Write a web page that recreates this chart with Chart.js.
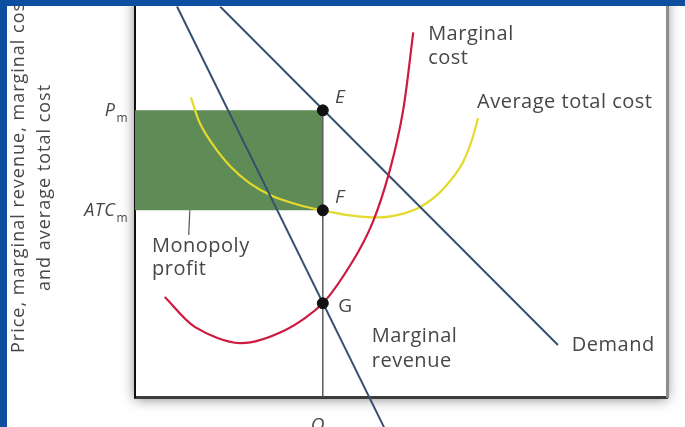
<!DOCTYPE html>
<html>
<head>
<meta charset="utf-8">
<script src="https://cdn.jsdelivr.net/npm/chart.js@4/dist/chart.umd.min.js"></script>
<style>
  html, body { margin: 0; padding: 0; }
  body { width: 685px; height: 427px; background: #0d4ea0; position: relative; overflow: hidden; }
  #wrap { position: absolute; left: 7px; top: 0; width: 678px; height: 427px; background: #fff; }
  #topbar { position: absolute; left: 0; top: 0; width: 685px; height: 6px; background: #0d4ea0; z-index: 2; }
</style>
</head>
<body>
<div id="wrap"><canvas id="monopoly" width="678" height="427"></canvas></div>
<div id="topbar"></div>
<script>
// quantity on x (0-100), price/cost on y (0-100)
const qM = 35.3;
const pM = 73.4;
const atcM = 47.8;
const mcAtQ = 24.0;

const demandX = [16.0, 79.5];
const demandY = [100, 13.3];
const mrX = [7.9, 46.8];
const mrY = [100, -7.7];
const mcX = [5.6, 11.3, 19.7, 28.2, 35.3, 40.8, 44.7, 47.9, 50.4, 52.3];
const mcY = [25.6, 17.9, 13.8, 17.1, 24.0, 34.5, 44.8, 58.1, 73.4, 93.4];
const atcX = [10.5, 12.2, 14.7, 17.9, 21.6, 25.9, 31.0, 35.3, 40.4, 46.1, 50.8, 53.8, 57.3, 61.1, 63.0, 64.5];
const atcY = [76.7, 70.1, 64.5, 59.1, 54.7, 51.4, 49.1, 47.8, 46.5, 46.0, 47.1, 48.8, 52.4, 58.8, 64.5, 71.4];

const pointY = [pM, atcM, mcAtQ];

const yTitle = ['Price, marginal revenue, marginal cost', 'and average total cost'];

// text labels anchored in data units
const curveLabels = [
  { text: 'Marginal', x: 55.1, y: 91.3 },
  { text: 'cost', x: 55.1, y: 85.4 },
  { text: 'Average total cost', x: 64.3, y: 73.9 },
  { text: 'Marginal', x: 44.5, y: 14.1 },
  { text: 'revenue', x: 44.5, y: 7.7 },
  { text: 'Demand', x: 82.1, y: 11.8 },
  { text: 'Monopoly', x: 3.2, y: 37.1 },
  { text: 'profit', x: 3.2, y: 31.2 }
];
const pointLabels = [
  { text: 'E', x: 37.6, y: 75.2, italic: true },
  { text: 'F', x: 37.6, y: 49.6, italic: true },
  { text: 'G', x: 38.2, y: 21.7, italic: false }
];

const toXY = (xs, ys) => xs.map((x, i) => ({ x: x, y: ys[i] }));

const FONT = '"Open Sans", "DejaVu Sans", sans-serif';
const TEXT = '#474747';

const frameShadow = {
  id: 'frameShadow',
  beforeDraw(chart) {
    const { ctx, chartArea: a } = chart;
    ctx.save();
    ctx.shadowColor = 'rgba(0,0,0,0.5)';
    ctx.shadowBlur = 12;
    ctx.shadowOffsetX = 0;
    ctx.shadowOffsetY = 2;
    ctx.fillStyle = '#fff';
    ctx.fillRect(a.left, a.top - 30, a.right - a.left, a.bottom - a.top + 30);
    ctx.restore();
  }
};

const textLabels = {
  id: 'textLabels',
  afterDraw(chart) {
    const { ctx } = chart;
    const xs = chart.scales.x, ys = chart.scales.y;
    ctx.save();
    ctx.fillStyle = TEXT;
    ctx.textBaseline = 'alphabetic';
    ctx.letterSpacing = '0.5px';

    ctx.font = '20px ' + FONT;
    ctx.textAlign = 'left';
    curveLabels.forEach(l => {
      ctx.fillText(l.text, xs.getPixelForValue(l.x), ys.getPixelForValue(l.y));
    });
    pointLabels.forEach(l => {
      ctx.font = (l.italic ? 'italic ' : '') + '19px ' + FONT;
      ctx.fillText(l.text, xs.getPixelForValue(l.x), ys.getPixelForValue(l.y));
    });

    // y-axis marks Pm, ATCm
    const left = chart.chartArea.left;
    const sub = (main, y) => {
      ctx.font = '12px ' + FONT;
      const mw = ctx.measureText('m').width;
      ctx.textAlign = 'right';
      ctx.fillText('m', left - 7, y + 12);
      ctx.font = 'italic 18px ' + FONT;
      ctx.fillText(main, left - 8 - mw, y + 6);
    };
    sub('P', ys.getPixelForValue(pM));
    sub('ATC', ys.getPixelForValue(atcM));

    // x-axis mark Q
    ctx.font = 'italic 19px ' + FONT;
    ctx.textAlign = 'center';
    ctx.fillText('Q', xs.getPixelForValue(qM) - 5, chart.chartArea.bottom + 34);

    // axis title, two rotated lines
    ctx.letterSpacing = '1px';
    ctx.font = '18px ' + FONT;
    ctx.textAlign = 'left';
    ctx.translate(17, 353);
    ctx.rotate(-Math.PI / 2);
    ctx.fillText(yTitle[0], 0, 0);
    ctx.fillText(yTitle[1], 62, 26);
    ctx.restore();
  }
};

new Chart(document.getElementById('monopoly'), {
  type: 'scatter',
  data: {
    datasets: [
      {
        label: 'Points',
        data: pointY.map(y => ({ x: qM, y: y })),
        backgroundColor: '#111',
        borderColor: '#111',
        pointRadius: 5.5,
        showLine: false,
        order: 0
      },
      {
        label: 'Marginal cost',
        data: toXY(mcX, mcY),
        showLine: true,
        borderColor: '#cc1a40',
        borderWidth: 2.2,
        pointRadius: 0,
        tension: 0.3,
        order: 1
      },
      {
        label: 'Marginal revenue',
        data: toXY(mrX, mrY),
        showLine: true,
        borderColor: '#35506e',
        borderWidth: 2,
        pointRadius: 0,
        clip: false,
        order: 2
      },
      {
        label: 'Demand',
        data: toXY(demandX, demandY),
        showLine: true,
        borderColor: '#35506e',
        borderWidth: 2,
        pointRadius: 0,
        order: 3
      },
      {
        label: 'Average total cost',
        data: toXY(atcX, atcY),
        showLine: true,
        borderColor: '#e4da2c',
        borderWidth: 2.2,
        pointRadius: 0,
        tension: 0.3,
        order: 4
      },
      {
        label: 'Q line',
        data: [{ x: qM, y: 0 }, { x: qM, y: pM }],
        showLine: true,
        borderColor: '#5a5a5a',
        borderWidth: 1.5,
        pointRadius: 0,
        order: 5
      },
      {
        label: 'Leader',
        data: [{ x: 10.3, y: atcM }, { x: 10.1, y: 41.5 }],
        showLine: true,
        borderColor: '#555',
        borderWidth: 1.2,
        pointRadius: 0,
        order: 6
      },
      {
        label: 'Monopoly profit',
        data: [{ x: 0, y: pM }, { x: qM, y: pM }],
        showLine: true,
        borderWidth: 0,
        borderColor: 'rgba(0,0,0,0)',
        backgroundColor: '#5f8c56',
        fill: { value: atcM },
        pointRadius: 0,
        order: 10
      }
    ]
  },
  options: {
    responsive: false,
    devicePixelRatio: 1,
    animation: false,
    layout: { padding: 0 },
    plugins: {
      legend: { display: false },
      tooltip: { enabled: false }
    },
    scales: {
      x: {
        type: 'linear',
        min: 0,
        max: 100,
        grid: { display: false },
        ticks: { display: false },
        border: { display: true, color: '#3c3c3c', width: 3 },
        afterFit: s => { s.height = 30; }
      },
      y: {
        type: 'linear',
        min: 0,
        max: 100,
        grid: { display: false },
        ticks: { display: false },
        border: { display: true, color: '#111', width: 2 },
        afterFit: s => { s.width = 128; }
      },
      y2: {
        type: 'linear',
        position: 'right',
        min: 0,
        max: 100,
        grid: { display: false },
        ticks: { display: false },
        border: { display: true, color: '#8c8c8c', width: 3 },
        afterFit: s => { s.width = 18; }
      }
    }
  },
  plugins: [frameShadow, textLabels]
});
</script>
</body>
</html>
